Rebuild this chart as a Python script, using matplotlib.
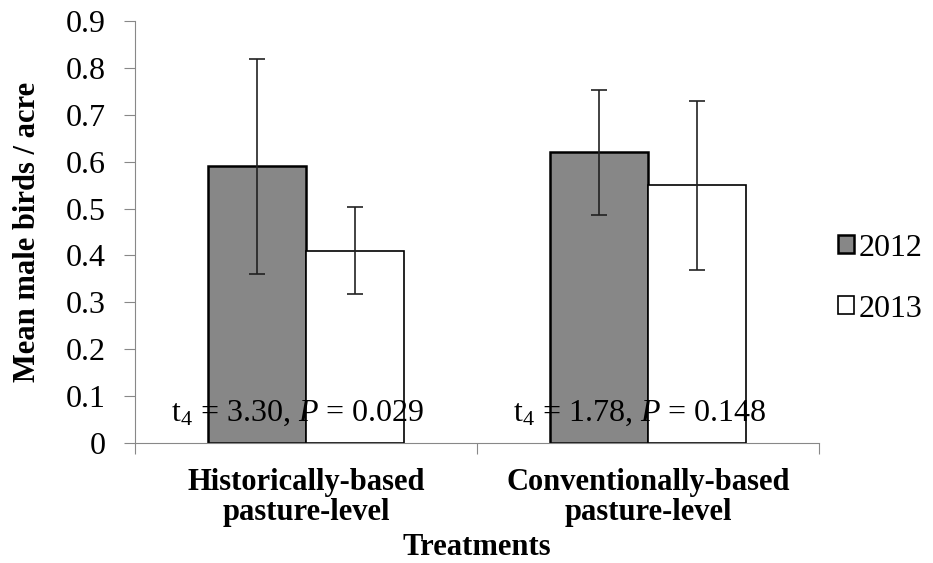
import matplotlib.pyplot as plt
import numpy as np

treatments = ['Historically-based\npasture-level', 'Conventionally-based\npasture-level']
years = ['2012', '2013']
means_2012 = [0.59, 0.62]
means_2013 = [0.41, 0.55]
err_2012 = [0.23, 0.133]
err_2013 = [0.093, 0.18]
stats = [('3.30', '0.029'), ('1.78', '0.148')]

if __name__ == '__main__':
    plt.rcParams['font.family'] = 'Liberation Serif'
    plt.rcParams['mathtext.fontset'] = 'custom'
    plt.rcParams['mathtext.rm'] = 'Liberation Serif'
    plt.rcParams['mathtext.it'] = 'Liberation Serif:italic'
    fig = plt.figure(figsize=(9.33, 5.63), dpi=100)
    ax = fig.add_axes([0.1447, 0.213, 0.7334, 0.7497])

    x = np.arange(len(treatments))
    w = 0.2865
    ax.bar(x - w / 2, means_2012, w, color='#878787', edgecolor='black', linewidth=1.8, label=years[0])
    ax.bar(x + w / 2, means_2013, w, color='white', edgecolor='black', linewidth=1.2, label=years[1])
    ax.errorbar(x - w / 2, means_2012, yerr=err_2012, fmt='none', ecolor='#222222', elinewidth=1.2, capsize=6, capthick=1.2)
    ax.errorbar(x + w / 2, means_2013, yerr=err_2013, fmt='none', ecolor='#222222', elinewidth=1.2, capsize=6, capthick=1.2)

    for i, (t, p) in enumerate(stats):
        ax.text(x[i] - 0.025, 0.064, '$\\mathregular{t_4}$ = ' + t + ', $\\mathit{P}$ = ' + p,
                ha='center', va='center', fontsize=23)

    ax.set_xlim(-0.5, 1.5)
    ax.set_ylim(0, 0.9)
    ax.set_yticks(np.arange(0, 0.91, 0.1))
    ax.set_yticklabels(['0'] + ['%.1f' % v for v in np.arange(0.1, 0.91, 0.1)], fontsize=23)
    ax.set_xticks([-0.5, 0.5, 1.5], minor=False)
    ax.set_xticklabels([])
    ax.set_xticks(x, minor=True)
    ax.set_xticklabels(treatments, minor=True, fontsize=22, fontweight='bold', linespacing=1.05)
    ax.tick_params(axis='x', which='minor', length=0, pad=18)
    ax.tick_params(axis='x', which='major', length=8, color='#888888')
    ax.tick_params(axis='y', length=8, color='#888888', pad=13)
    for s in ['top', 'right']:
        ax.spines[s].set_visible(False)
    for s in ['left', 'bottom']:
        ax.spines[s].set_color('#888888')
    ax.set_ylabel('Mean male birds / acre', fontsize=22, fontweight='bold', labelpad=17)
    ax.set_xlabel('Treatments', fontsize=22, fontweight='bold', labelpad=4)

    fig.legend(loc='center left', bbox_to_anchor=(0.898, 0.505), frameon=False, fontsize=23,
               handlelength=0.5, handleheight=0.5, handletextpad=0.15, labelspacing=1.0,
               borderaxespad=0, borderpad=0)

    plt.savefig('out.png')
